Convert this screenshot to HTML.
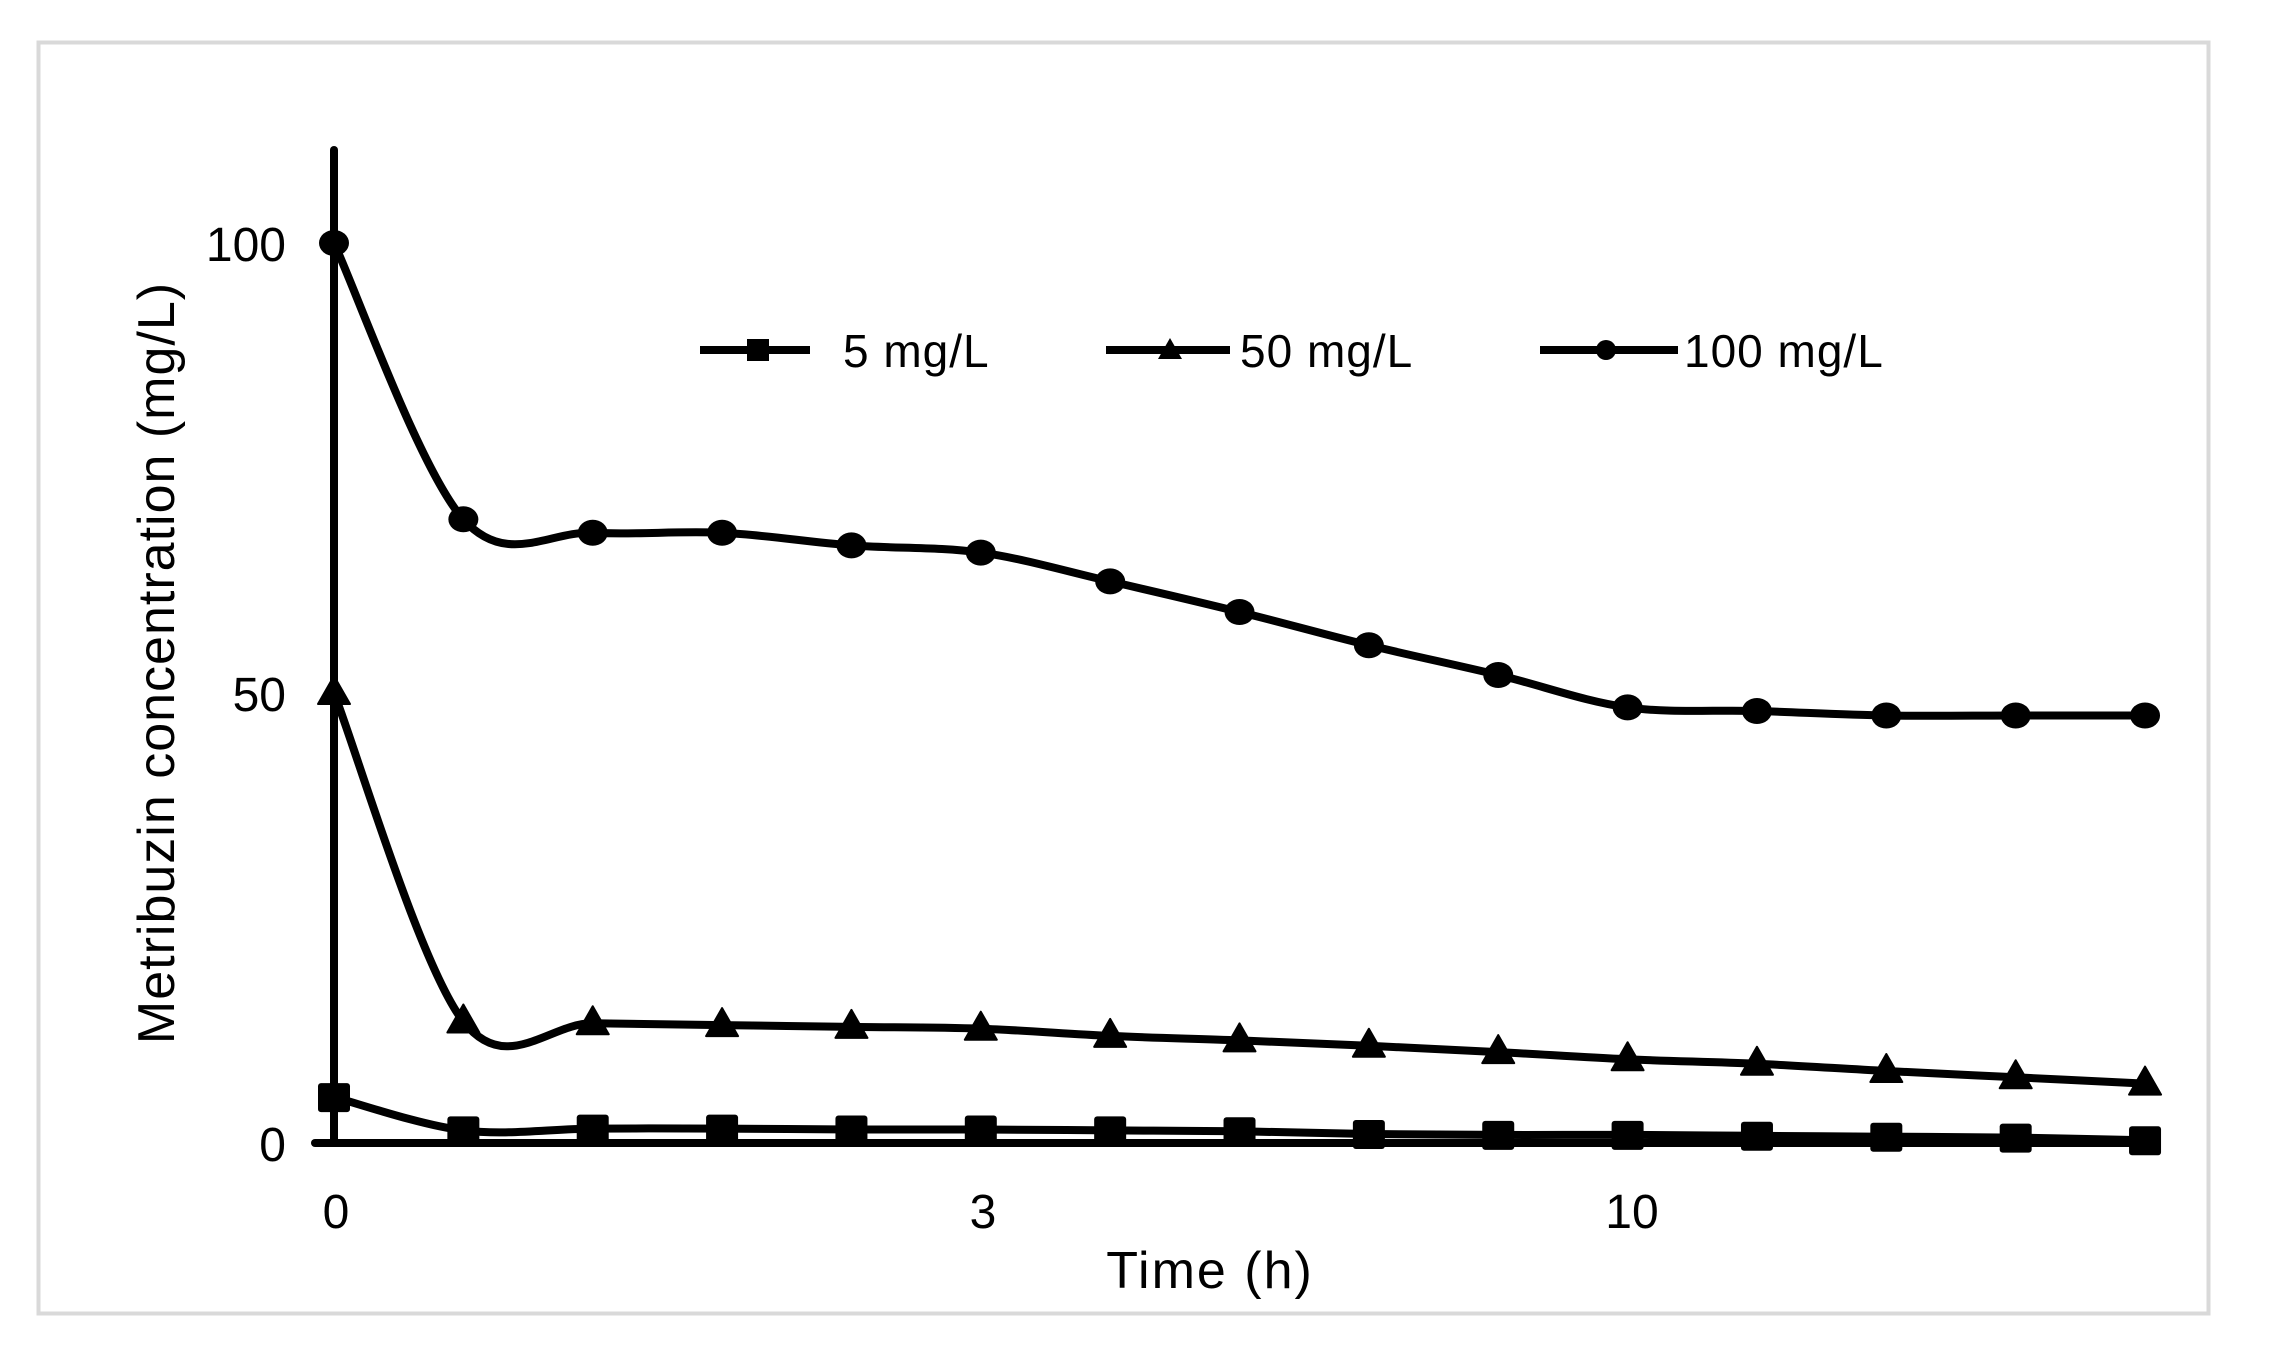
<!DOCTYPE html>
<html><head><meta charset="utf-8"><style>
html,body{margin:0;padding:0;background:#fff;}
svg{display:block;}
text{font-family:"Liberation Sans","DejaVu Sans",sans-serif;fill:#000;}
</style></head><body>
<svg id="s" width="2269" height="1348" viewBox="0 0 2269 1348" xmlns="http://www.w3.org/2000/svg">
<rect x="0" y="0" width="2269" height="1348" fill="#fff"/>
<rect x="38.5" y="42.5" width="2170" height="1271" fill="#fff" stroke="#d9d9d9" stroke-width="4"/>
<line x1="334" y1="150" x2="334" y2="1143" stroke="#000" stroke-width="8" stroke-linecap="round"/>
<line x1="315" y1="1143" x2="2150" y2="1143" stroke="#000" stroke-width="8" stroke-linecap="round"/>
<text x="286" y="261" font-size="48" text-anchor="end">100</text>
<text x="286" y="711" font-size="48" text-anchor="end">50</text>
<text x="286" y="1161" font-size="48" text-anchor="end">0</text>
<text x="336" y="1228" font-size="48" text-anchor="middle">0</text>
<text x="983" y="1228" font-size="48" text-anchor="middle">3</text>
<text x="1632" y="1228" font-size="48" text-anchor="middle">10</text>
<text x="1210" y="1288" font-size="52" text-anchor="middle" letter-spacing="2">Time (h)</text>
<text transform="translate(174,663) rotate(-90)" font-size="52" text-anchor="middle" letter-spacing="1">Metribuzin concentration (mg/L)</text>
<g id="g"></g>
<g stroke="#000" stroke-width="8">
<line x1="700" y1="350" x2="810" y2="350"/>
<line x1="1106" y1="350" x2="1230" y2="350"/>
<line x1="1540" y1="350" x2="1678" y2="350"/>
</g>
<rect x="747" y="339" width="22" height="22" fill="#000"/>
<polygon points="1170,338 1182,359 1158,359" fill="#000"/>
<circle cx="1606" cy="350" r="10" fill="#000"/>
<text x="843" y="367" font-size="46" letter-spacing="1">5 mg/L</text>
<text x="1240" y="367" font-size="46" letter-spacing="1">50 mg/L</text>
<text x="1684" y="367" font-size="46" letter-spacing="1">100 mg/L</text>
</svg>
<script>
var d100=[100,69.3,67.8,67.8,66.4,65.6,62.4,59,55.3,52,48.4,48,47.5,47.5,47.5];
var d50=[50,13.5,13.3,13.1,12.9,12.7,11.9,11.4,10.8,10.1,9.3,8.8,8.0,7.3,6.6];
var d5=[5.1,1.4,1.6,1.6,1.5,1.5,1.4,1.3,1.0,0.9,0.9,0.8,0.7,0.6,0.3];
function X(i){return 334+i*129.36;}
function Y(v){return 1143-v*9.0;}
var NS="http://www.w3.org/2000/svg",g=document.getElementById('g');
function el(t,a){var e=document.createElementNS(NS,t);for(var k in a)e.setAttribute(k,a[k]);g.appendChild(e);return e;}
function path(d){var p=d.map(function(v,i){return [X(i),Y(v)];});
var s="M"+p[0][0]+","+p[0][1];
for(var i=0;i<p.length-1;i++){var p0=p[i-1]||p[i],p1=p[i],p2=p[i+1],p3=p[i+2]||p2;
var k=1/6;s+=" C"+(p1[0]+(p2[0]-p0[0])*k)+","+(p1[1]+(p2[1]-p0[1])*k)+" "+(p2[0]-(p3[0]-p1[0])*k)+","+(p2[1]-(p3[1]-p1[1])*k)+" "+p2[0]+","+p2[1];}
return s;}
[d100,d50,d5].forEach(function(d){el('path',{d:path(d),fill:'none',stroke:'#000','stroke-width':8,'stroke-linejoin':'round'});});
d100.forEach(function(v,i){el('ellipse',{cx:X(i),cy:Y(v),rx:15,ry:13,fill:'#000'});});
d50.forEach(function(v,i){var x=X(i),y=Y(v);el('polygon',{points:(x)+","+(y-17)+" "+(x+16)+","+(y+11)+" "+(x-16)+","+(y+11),fill:'#000','stroke':'#000','stroke-width':2,'stroke-linejoin':'round'});});
d5.forEach(function(v,i){el('rect',{x:X(i)-16,y:Y(v)-14,width:32,height:29,rx:3,fill:'#000'});});
</script>
</body></html>
